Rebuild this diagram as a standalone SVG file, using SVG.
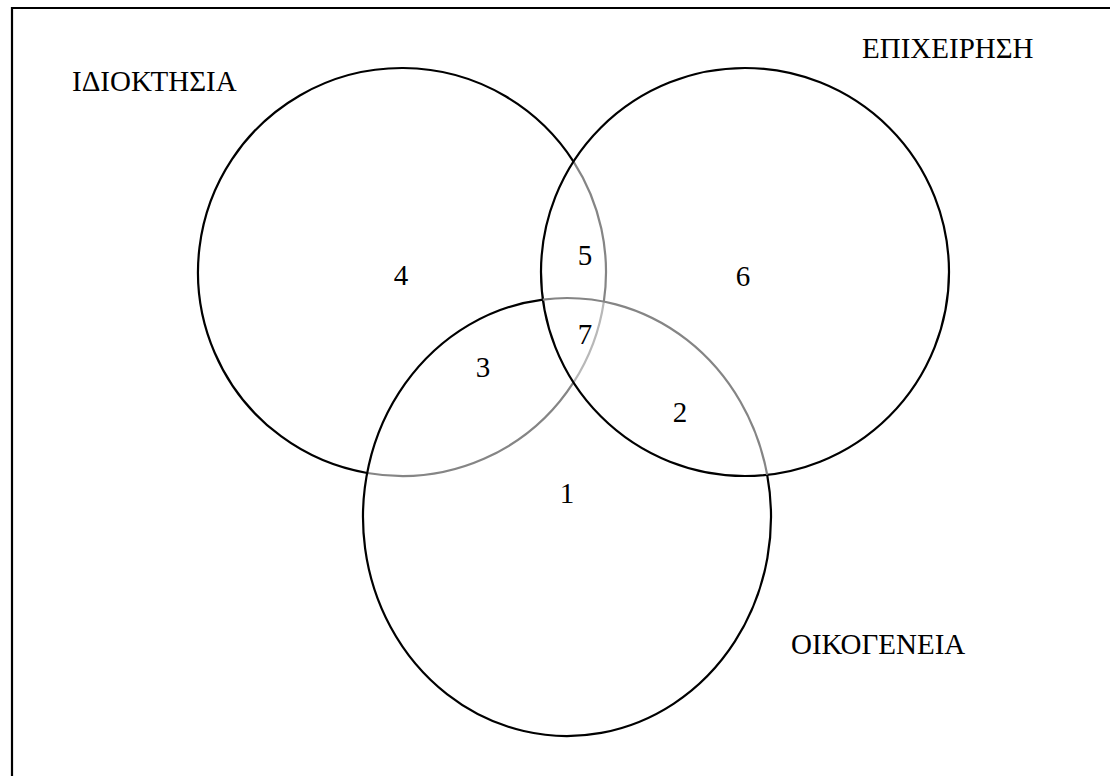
<svg xmlns="http://www.w3.org/2000/svg" width="1110" height="776" viewBox="0 0 1110 776">
<style>
.c{fill:none;stroke:#000;stroke-width:2.2}
.g{fill:none;stroke:#858585;stroke-width:2.2}
.lg{fill:none;stroke:#b8b8b8;stroke-width:2.2}
.t{font-family:"Liberation Serif",serif;font-size:29px;fill:#000}
.n{text-anchor:middle}
</style>
<rect width="1110" height="776" fill="#fff"/>
<path d="M12 776 V8 H1110" fill="none" stroke="#000" stroke-width="2.2"/>
<g id="circle-idioktisia">
<path class="c" d="M367.17 473.01 A204 204 0 1 1 573.5 161.53"/>
<path class="g" d="M573.5 161.53 A204 204 0 0 1 603.84 301.6"/>
<path class="lg" d="M603.84 301.6 A204 204 0 0 1 573.5 382.47"/>
<path class="g" d="M573.5 382.47 A204 204 0 0 1 367.17 473.01"/>
</g>
<g id="circle-epixeirisi"><circle class="c" cx="745" cy="272" r="204"/></g>
<g id="circle-oikogeneia">
<path class="c" d="M767.17 474.79 A204 219 0 1 1 542.87 299.54"/>
<path class="g" d="M542.87 299.54 A204 219 0 0 1 767.17 474.79"/>
</g>
<g id="labels" class="t" font-family="Liberation Serif, serif">
<text x="72" y="91">ΙΔΙΟΚΤΗΣΙΑ</text>
<text x="862" y="58">ΕΠΙΧΕΙΡΗΣΗ</text>
<text x="791" y="654">ΟΙΚΟΓΕΝΕΙΑ</text>
<text class="n" x="401" y="285">4</text>
<text class="n" x="585" y="265">5</text>
<text class="n" x="743" y="286">6</text>
<text class="n" x="585" y="344">7</text>
<text class="n" x="483" y="377">3</text>
<text class="n" x="680" y="422">2</text>
<text class="n" x="567" y="503">1</text>
</g>
</svg>
